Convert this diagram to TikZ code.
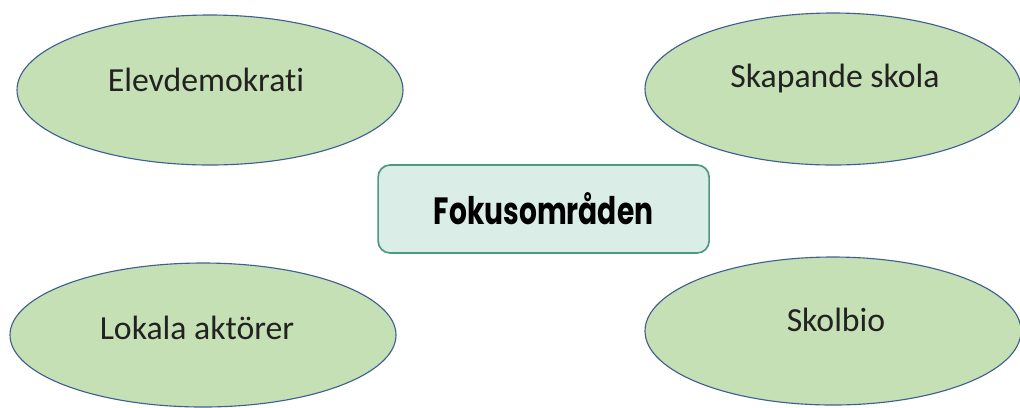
\documentclass[tikz,border=0pt]{standalone}
\usepackage{fontspec}
\setmainfont{Carlito}[Ligatures=NoCommon]
\newfontfamily\headfont{Poppins}[FakeStretch=0.74]
\usetikzlibrary{shapes.geometric}

\definecolor{blobfill}{HTML}{C5E0B4}
\definecolor{blobline}{HTML}{3F5F93}
\definecolor{hubfill}{HTML}{DAEDE6}
\definecolor{hubline}{HTML}{4E9A7C}
\definecolor{inktext}{HTML}{222222}

\tikzstyle{blob}=[ellipse, draw=blobline, fill=blobfill, line width=0.8pt, inner sep=0pt]
\tikzstyle{blobtext}=[text=inktext, font=\fontsize{24}{28}\selectfont, inner sep=0pt]
\tikzstyle{hub}=[rectangle, rounded corners=0.3cm, draw=hubline, fill=hubfill, line width=1.2pt, minimum width=8.275cm, minimum height=2.2cm]

\begin{document}
\begin{tikzpicture}
    \useasboundingbox (0, 0) rectangle (25.5, -10.175);

    \node[blob, minimum width=9.65cm, minimum height=3.75cm] (demo) at (5.25, -2.25) {};
    \node[blob, minimum width=9.4cm, minimum height=3.8cm] (skapande) at (20.825, -2.225) {};
    \node[blob, minimum width=9.65cm, minimum height=3.6cm] (lokala) at (5.075, -8.375) {};
    \node[blob, minimum width=9.4cm, minimum height=3.7cm] (skolbio) at (20.825, -8.275) {};

    \node[blobtext] (demoText) at (5.15, -2.0) {Elevdemokrati};
    \node[blobtext] (skapandeText) at (20.875, -1.95) {Skapande skola};
    \node[blobtext] (lokalaText) at (4.925, -8.2) {Lokala aktörer};
    \node[blobtext] (skolbioText) at (20.9, -8.0) {Skolbio};

    \node[hub] (fokus) at (13.59, -5.225) {\headfont\fontsize{27}{30}\selectfont\bfseries Fokusområden};
\end{tikzpicture}
\end{document}
